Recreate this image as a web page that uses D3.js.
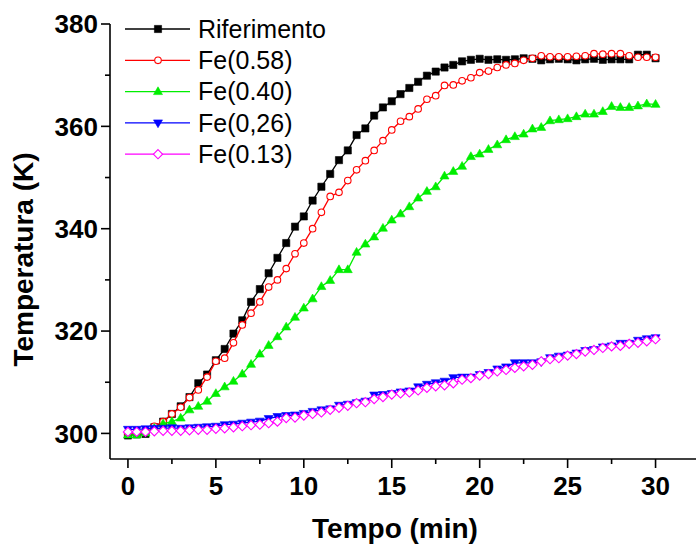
<!DOCTYPE html>
<html>
<head>
<meta charset="utf-8">
<script src="https://cdn.jsdelivr.net/npm/d3@7"></script>
<style>
  html, body { margin: 0; padding: 0; background: #fff; }
  svg { display: block; }
  text { font-family: "Liberation Sans", Arial, sans-serif; }
</style>
</head>
<body>
<svg id="chart" width="696" height="546"></svg>
<script>
// Time axis (min), sampled every half minute
const times = [0, 0.5, 1, 1.5, 2, 2.5, 3, 3.5, 4, 4.5, 5, 5.5, 6, 6.5, 7, 7.5, 8, 8.5, 9, 9.5,
  10, 10.5, 11, 11.5, 12, 12.5, 13, 13.5, 14, 14.5, 15, 15.5, 16, 16.5, 17, 17.5, 18, 18.5, 19, 19.5,
  20, 20.5, 21, 21.5, 22, 22.5, 23, 23.5, 24, 24.5, 25, 25.5, 26, 26.5, 27, 27.5, 28, 28.5, 29, 29.5, 30];

// Temperature (K) for each sample
const riferimento = [299.6, 299.8, 299.9, 301.2, 302.3, 303.8, 305.3, 307.1, 309.8, 311.5,
  314.3, 316.5, 319.5, 322.1, 325.7, 328.2, 331.3, 334.3, 337.2, 340.4,
  342.4, 345.5, 348.2, 350.7, 353.4, 355.3, 358.3, 359.6, 362.1, 363.7,
  364.9, 366.3, 367.5, 368.7, 369.9, 370.7, 371.5, 372.0, 372.7, 373.0,
  373.2, 373.0, 373.1, 373.0, 373.1, 373.3, 373.2, 372.9, 373.1, 373.2,
  373.1, 372.9, 373.1, 373.2, 373.0, 373.1, 373.1, 373.1, 374.0, 374.0, 373.3];

const fe058 = [300.0, 300.1, 300.5, 301.4, 302.3, 303.8, 305.1, 307.0, 308.5, 311.0,
  314.1, 314.7, 317.7, 321.2, 323.5, 325.7, 328.6, 330.0, 332.2, 335.1,
  337.2, 340.0, 343.2, 346.3, 347.1, 349.4, 351.5, 353.3, 355.3, 357.2,
  359.3, 361.0, 361.9, 363.4, 365.3, 366.0, 368.0, 368.1, 368.9, 369.5,
  370.5, 370.8, 371.5, 372.0, 372.3, 372.9, 373.3, 373.8, 373.6, 373.6,
  373.6, 373.7, 373.8, 374.2, 374.1, 374.2, 374.2, 373.8, 373.5, 373.5, 373.5];

const fe040 = [299.7, 299.7, 300.1, 301.0, 301.9, 302.3, 303.0, 304.6, 305.3, 306.3,
  307.8, 309.1, 310.2, 311.6, 313.5, 315.5, 317.2, 318.9, 320.8, 322.7,
  324.5, 326.3, 328.7, 329.9, 332.0, 332.0, 335.4, 337.0, 338.4, 340.1,
  341.7, 342.9, 344.3, 346.0, 347.3, 348.2, 350.3, 351.2, 352.2, 354.1,
  354.6, 355.5, 356.4, 357.4, 358.0, 358.5, 359.5, 359.8, 361.1, 361.3,
  361.5, 361.9, 362.4, 362.4, 362.9, 363.9, 363.7, 363.7, 364.0, 364.4, 364.3];

const fe026 = [300.8, 300.8, 300.9, 301.0, 301.0, 301.1, 301.0, 301.1, 301.2, 301.3,
  301.4, 301.7, 301.8, 302.0, 302.2, 302.4, 302.9, 303.3, 303.5, 303.6,
  303.9, 304.3, 304.6, 304.8, 305.5, 305.7, 306.0, 306.3, 307.5, 307.6,
  307.8, 308.1, 308.3, 309.1, 309.6, 309.9, 310.2, 310.9, 311.0, 311.0,
  311.5, 311.9, 312.6, 313.0, 313.8, 313.8, 313.8, 314.0, 314.8, 315.1,
  315.3, 315.7, 316.2, 316.4, 316.9, 317.1, 317.6, 317.6, 318.2, 318.5, 318.7];

const fe013 = [300.3, 300.3, 300.3, 300.4, 300.5, 300.5, 300.5, 300.6, 300.7, 300.7,
  300.9, 301.0, 301.2, 301.4, 301.6, 301.7, 302.0, 302.3, 303.0, 303.1,
  303.5, 303.8, 304.1, 304.6, 305.0, 305.4, 305.9, 306.1, 306.7, 307.1,
  307.6, 307.8, 308.0, 308.4, 308.9, 309.2, 309.4, 309.8, 310.5, 310.8,
  311.3, 311.6, 312.1, 312.4, 312.8, 313.1, 313.4, 314.1, 314.5, 314.7,
  315.2, 315.5, 316.0, 316.3, 316.7, 317.0, 317.1, 317.5, 317.7, 318.0, 318.4];

const seriesNames = ["Riferimento", "Fe(0.58)", "Fe(0.40)", "Fe(0,26)", "Fe(0.13)"];
const seriesColors = ["#000000", "#ff0000", "#00ee00", "#0000ff", "#ff00ff"];
const seriesSymbols = ["square", "circle", "triUp", "triDown", "diamond"];
const seriesFilled = [true, false, true, true, false];
const seriesValues = [riferimento, fe058, fe040, fe026, fe013];

const xTicks = [0, 5, 10, 15, 20, 25, 30];
const xMinorTicks = [2.5, 7.5, 12.5, 17.5, 22.5, 27.5];
const yTicks = [300, 320, 340, 360, 380];
const yMinorTicks = [310, 330, 350, 370];

const svg = d3.select("#chart");
const plotLeft = 110, plotRight = 696, plotTop = 24, plotBottom = 459;

const x = d3.scaleLinear().domain([-1.02, 32.3]).range([plotLeft, plotRight]);
const y = d3.scaleLinear().domain([295, 380]).range([plotBottom, plotTop]);

// Symbol paths centred on the origin
function symbolPath(kind) {
  switch (kind) {
    case "square": return "M-3.6,-3.6H3.6V3.6H-3.6Z";
    case "circle": return d3.symbol(d3.symbolCircle, 34)();
    case "triUp": return "M0,-4.8L4.5,3H-4.5Z";
    case "triDown": return "M0,4.8L4.5,-3H-4.5Z";
    case "diamond": return "M0,-4.6L4.6,0L0,4.6L-4.6,0Z";
  }
}

const plot = svg.append("g");

seriesValues.forEach((vals, i) => {
  const pts = times.map((t, k) => [t, vals[k]]);
  const g = plot.append("g");
  g.append("path")
    .datum(pts)
    .attr("fill", "none")
    .attr("stroke", seriesColors[i])
    .attr("stroke-width", 1.3)
    .attr("d", d3.line().x(d => x(d[0])).y(d => y(d[1])));
  g.selectAll("path.sym")
    .data(pts)
    .join("path")
    .attr("class", "sym")
    .attr("transform", d => `translate(${x(d[0])},${y(d[1])})`)
    .attr("d", symbolPath(seriesSymbols[i]))
    .attr("fill", seriesFilled[i] ? seriesColors[i] : "#fff")
    .attr("stroke", seriesColors[i])
    .attr("stroke-width", seriesFilled[i] ? 0.6 : 1.1);
});

// Axes
const axisWidth = 1.6;
const xAxis = svg.append("g").attr("transform", `translate(0,${plotBottom})`);
xAxis.append("line").attr("x1", plotLeft).attr("x2", plotRight).attr("stroke", "#000").attr("stroke-width", axisWidth);
xAxis.selectAll("line.major").data(xTicks).join("line")
  .attr("class", "major")
  .attr("x1", d => x(d)).attr("x2", d => x(d)).attr("y1", 0).attr("y2", 9)
  .attr("stroke", "#000").attr("stroke-width", axisWidth);
xAxis.selectAll("line.minor").data(xMinorTicks).join("line")
  .attr("class", "minor")
  .attr("x1", d => x(d)).attr("x2", d => x(d)).attr("y1", 0).attr("y2", 5)
  .attr("stroke", "#000").attr("stroke-width", axisWidth);
xAxis.selectAll("text").data(xTicks).join("text")
  .attr("x", d => x(d)).attr("y", 36)
  .attr("text-anchor", "middle")
  .attr("font-size", 26).attr("font-weight", "bold")
  .text(d => d);

const yAxis = svg.append("g").attr("transform", `translate(${plotLeft},0)`);
yAxis.append("line").attr("y1", plotTop).attr("y2", plotBottom).attr("stroke", "#000").attr("stroke-width", axisWidth);
yAxis.selectAll("line.major").data(yTicks).join("line")
  .attr("class", "major")
  .attr("y1", d => y(d)).attr("y2", d => y(d)).attr("x1", 0).attr("x2", -9)
  .attr("stroke", "#000").attr("stroke-width", axisWidth);
yAxis.selectAll("line.minor").data(yMinorTicks).join("line")
  .attr("class", "minor")
  .attr("y1", d => y(d)).attr("y2", d => y(d)).attr("x1", 0).attr("x2", -5)
  .attr("stroke", "#000").attr("stroke-width", axisWidth);
yAxis.selectAll("text").data(yTicks).join("text")
  .attr("x", -12).attr("y", d => y(d)).attr("dy", "0.36em")
  .attr("text-anchor", "end")
  .attr("font-size", 26).attr("font-weight", "bold")
  .text(d => d);

// Axis titles
svg.append("text")
  .attr("x", (plotLeft + plotRight) / 2 - 8).attr("y", 538)
  .attr("text-anchor", "middle")
  .attr("font-size", 28).attr("font-weight", "bold")
  .text("Tempo (min)");
svg.append("text")
  .attr("transform", `translate(33,${(plotTop + plotBottom) / 2 + 18}) rotate(-90)`)
  .attr("text-anchor", "middle")
  .attr("font-size", 28).attr("font-weight", "bold")
  .text("Temperatura (K)");

// Legend
const legend = svg.append("g");
seriesNames.forEach((name, i) => {
  const ly = 29 + i * 31.3;
  const row = legend.append("g").attr("transform", `translate(0,${ly})`);
  row.append("line").attr("x1", 125).attr("x2", 190)
    .attr("stroke", seriesColors[i]).attr("stroke-width", 1.3);
  row.append("path")
    .attr("transform", "translate(158,0)")
    .attr("d", symbolPath(seriesSymbols[i]))
    .attr("fill", seriesFilled[i] ? seriesColors[i] : "#fff")
    .attr("stroke", seriesColors[i])
    .attr("stroke-width", seriesFilled[i] ? 0.6 : 1.1);
  row.append("text")
    .attr("x", 198).attr("y", 0).attr("dy", "0.35em")
    .attr("font-size", 25)
    .text(name);
});
</script>
</body>
</html>
